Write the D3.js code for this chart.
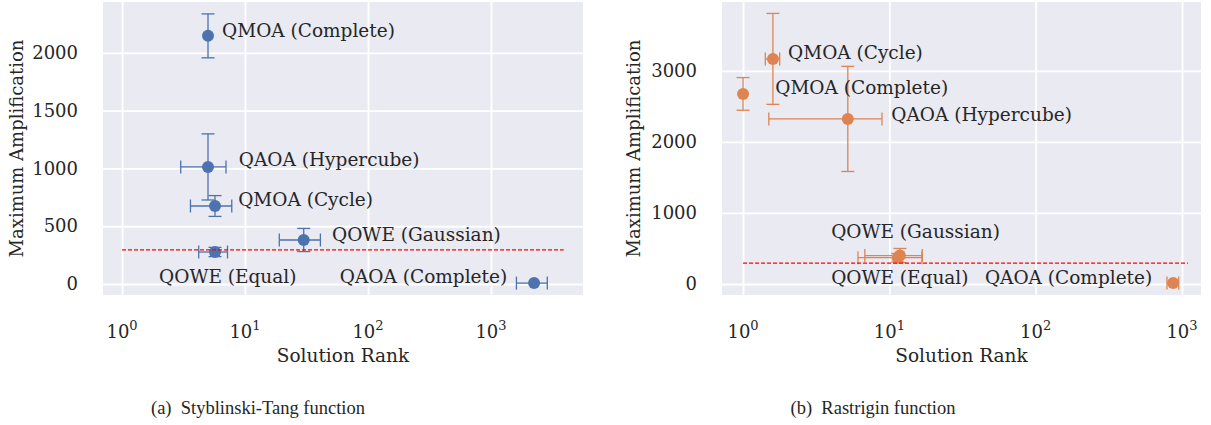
<!DOCTYPE html>
<html>
<head>
<meta charset="utf-8">
<script src="https://cdn.jsdelivr.net/npm/d3@7"></script>
<style>
body { margin:0; background:#fff; }
text { font-family:"DejaVu Serif", serif; fill:#262626; }
</style>
</head>
<body>
<svg id="fig" width="1211" height="425"></svg>
<script>
// methods, same order in both panels
var methods = ["QMOA (Complete)", "QMOA (Cycle)", "QAOA (Complete)", "QAOA (Hypercube)", "QOWE (Equal)", "QOWE (Gaussian)"];

// (a) Styblinski-Tang
var stRank = [5.0, 5.7, 2240, 5.0, 5.7, 30];
var stRankErr = [0, 2.1, 630, 2.0, 1.5, 11];
var stAmp = [2147, 675, 8, 1013, 277, 381];
var stAmpErr = [190, 90, 0, 286, 40, 100];
var stLabelRank = [6.5, 8.8, 59, 8.9, 2.0, 51];
var stLabelAmp = [2190, 727, 61, 1074, 61, 424];

// (b) Rastrigin
var rgRank = [1.0, 1.6, 870, 5.2, 11.4, 11.8];
var rgRankErr = [0, 0.18, 80, 3.7, 5.3, 5.0];
var rgAmp = [2676, 3169, 14, 2324, 370, 400];
var rgAmpErr = [230, 640, 0, 740, 60, 100];
var rgLabelRank = [1.66, 2.03, 45, 10.3, 4.0, 4.0];
var rgLabelAmp = [2761, 3254, 85, 2380, 85, 732];

// dashed reference line (value, rank range)
var stThreshold = 295, stThresholdRange = [1, 3900];
var rgThreshold = 295, rgThresholdRange = [1, 1100];

var rankTicks = [1, 10, 100, 1000];
var rankTickExp = ["0", "1", "2", "3"];
var stAmpTicks = [0, 500, 1000, 1500, 2000];
var rgAmpTicks = [0, 1000, 2000, 3000];

var panels = [
	{
		rank: stRank, rankErr: stRankErr, amp: stAmp, ampErr: stAmpErr,
		labelRank: stLabelRank, labelAmp: stLabelAmp,
		threshold: stThreshold, thresholdRange: stThresholdRange,
		ampTicks: stAmpTicks,
		xDomain: [0.70, 5600], yDomain: [-95, 2440],
		left: 103, right: 583, top: 2, bottom: 295, yTitleX: 17,
		color: "#4C72B0", caption: "(a)  Styblinski-Tang function", captionX: 258
	},
	{
		rank: rgRank, rankErr: rgRankErr, amp: rgAmp, ampErr: rgAmpErr,
		labelRank: rgLabelRank, labelAmp: rgLabelAmp,
		threshold: rgThreshold, thresholdRange: rgThresholdRange,
		ampTicks: rgAmpTicks,
		xDomain: [0.718, 1349], yDomain: [-155, 3970],
		left: 722, right: 1201, top: 2, bottom: 295, yTitleX: 634,
		color: "#DD8452", caption: "(b)  Rastrigin function", captionX: 873
	}
];

var svg = d3.select("#fig");

function drawPanel(p)
{
	var x = d3.scaleLog().domain(p.xDomain).range([p.left, p.right]);
	var y = d3.scaleLinear().domain(p.yDomain).range([p.bottom, p.top]);
	var g = svg.append("g");

	g.append("rect")
	.attr("x", p.left)
	.attr("y", p.top)
	.attr("width", p.right - p.left)
	.attr("height", p.bottom - p.top)
	.attr("fill", "#EAEAF2");

	// grid + y tick labels
	var yAxis = g.append("g")
	.attr("transform", "translate(" + p.left + ",0)")
	.call(d3.axisLeft(y).tickValues(p.ampTicks).tickSize(-(p.right - p.left)).tickPadding(25).tickFormat(d3.format("d")));
	var xAxis = g.append("g")
	.attr("transform", "translate(0," + p.bottom + ")")
	.call(d3.axisBottom(x).tickValues(rankTicks).tickSize(-(p.bottom - p.top)).tickFormat(""));
	g.selectAll(".domain").remove();
	g.selectAll(".tick line").attr("stroke", "#fff").attr("stroke-width", 1.8);
	yAxis.selectAll("text")
	.attr("font-family", "DejaVu Serif")
	.attr("font-size", 18)
	.attr("fill", "#262626");

	// x tick labels as powers of ten
	var xl = g.selectAll(".xlab")
	.data(rankTicks)
	.enter()
	.append("text")
	.attr("x", function(d) { return x(d); })
	.attr("y", 338)
	.attr("text-anchor", "middle")
	.attr("font-size", 18);
	xl.append("tspan").text("10");
	xl.append("tspan")
	.attr("dy", -8)
	.attr("font-size", 13)
	.text(function(d, i) { return rankTickExp[i]; });

	// error bars
	var cap = 6.5;
	var eb = g.append("g")
	.attr("stroke", p.color)
	.attr("stroke-width", 1.3)
	.attr("fill", "none");
	for(var i=0;i<methods.length;i++)
	{
		var cx = x(p.rank[i]), cy = y(p.amp[i]);
		if(p.rankErr[i] > 0)
		{
			var x0 = x(p.rank[i] - p.rankErr[i]), x1 = x(p.rank[i] + p.rankErr[i]);
			eb.append("line").attr("x1", x0).attr("x2", x1).attr("y1", cy).attr("y2", cy);
			eb.append("line").attr("x1", x0).attr("x2", x0).attr("y1", cy - cap).attr("y2", cy + cap);
			eb.append("line").attr("x1", x1).attr("x2", x1).attr("y1", cy - cap).attr("y2", cy + cap);
		}
		if(p.ampErr[i] > 0)
		{
			var y0 = y(p.amp[i] - p.ampErr[i]), y1 = y(p.amp[i] + p.ampErr[i]);
			eb.append("line").attr("x1", cx).attr("x2", cx).attr("y1", y0).attr("y2", y1);
			eb.append("line").attr("x1", cx - cap).attr("x2", cx + cap).attr("y1", y0).attr("y2", y0);
			eb.append("line").attr("x1", cx - cap).attr("x2", cx + cap).attr("y1", y1).attr("y2", y1);
		}
	}

	g.selectAll(".pt")
	.data(methods)
	.enter()
	.append("circle")
	.attr("cx", function(d, i) { return x(p.rank[i]); })
	.attr("cy", function(d, i) { return y(p.amp[i]); })
	.attr("r", 6)
	.attr("fill", p.color);

	g.append("line")
	.attr("x1", x(p.thresholdRange[0]))
	.attr("x2", x(p.thresholdRange[1]))
	.attr("y1", y(p.threshold))
	.attr("y2", y(p.threshold))
	.attr("stroke", "red")
	.attr("stroke-width", 1.3)
	.attr("stroke-dasharray", "4,2");

	g.selectAll(".lab")
	.data(methods)
	.enter()
	.append("text")
	.attr("x", function(d, i) { return x(p.labelRank[i]); })
	.attr("y", function(d, i) { return y(p.labelAmp[i]); })
	.attr("dy", "0.35em")
	.attr("font-size", 18.5)
	.text(function(d) { return d; });

	// axis titles
	g.append("text")
	.attr("x", (p.left + p.right) / 2)
	.attr("y", 362)
	.attr("text-anchor", "middle")
	.attr("font-size", 18.5)
	.text("Solution Rank");
	g.append("text")
	.attr("transform", "translate(" + p.yTitleX + "," + ((p.top + p.bottom) / 2) + ") rotate(-90)")
	.attr("dy", "0.35em")
	.attr("text-anchor", "middle")
	.attr("font-size", 18)
	.text("Maximum Amplification");

	g.append("text")
	.attr("x", p.captionX)
	.attr("y", 414)
	.attr("text-anchor", "middle")
	.style("font-family", "'Liberation Serif', serif")
	.attr("font-size", 18.5)
	.attr("fill", "#000")
	.style("white-space", "pre")
	.text(p.caption);
}

panels.forEach(drawPanel);
</script>
</body>
</html>
